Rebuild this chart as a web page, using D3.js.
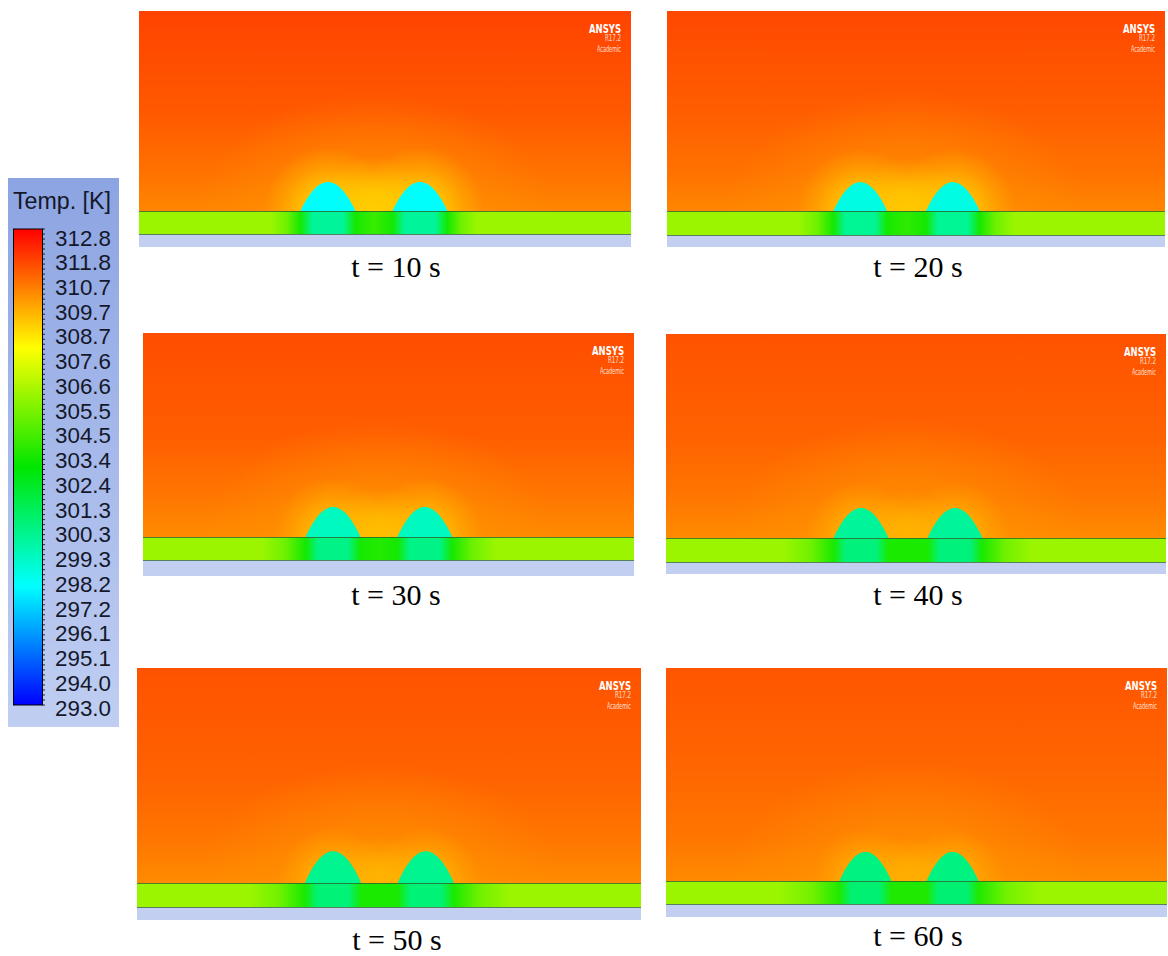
<!DOCTYPE html>
<html><head><meta charset="utf-8">
<script src="https://cdn.jsdelivr.net/npm/d3@7"></script>
<style>body{margin:0;background:#fff}svg{display:block}</style>
</head><body>
<svg id="chart" width="1168" height="956"></svg>
<script>
// ---------------- data ----------------
const times = [10, 20, 30, 40, 50, 60];
const legendTitle = "Temp. [K]";
const legendLabels = ["312.8","311.8","310.7","309.7","308.7","307.6","306.6","305.5","304.5","303.4",
                      "302.4","301.3","300.3","299.3","298.2","297.2","296.1","295.1","294.0","293.0"];
const tempMin = 293.0, tempMax = 312.8;
// droplets (x in mm over a 10 mm wide domain, heights in mm)
const dropletTemp      = [298.0, 298.5, 299.2, 299.9, 300.1, 300.4];
const dropletLeftX     = [3.84, 3.88, 3.87, 3.90, 3.89, 3.98];
const dropletRightX    = [5.71, 5.74, 5.74, 5.78, 5.73, 5.72];
const dropletHalfWidth = [0.56, 0.54, 0.56, 0.55, 0.56, 0.52];
const dropletHeight    = [0.59, 0.58, 0.61, 0.60, 0.63, 0.58];
// air temperature profile (top -> wall)
const airTopTemp  = [311.5, 311.4, 311.3, 311.2, 311.2, 311.15];
const airMidTemp  = [311.1, 311.0, 311.0, 310.9, 310.9, 310.8];
const airLowTemp  = [310.6, 310.6, 310.5, 310.5, 310.5, 310.5];
const airWallTemp = [310.2, 310.2, 310.1, 310.1, 310.1, 310.1];
const plumeTemp   = [309.9, 309.9, 309.9, 309.9, 309.9, 309.9];
const glowTemp    = [308.8, 308.9, 309.1, 309.3, 309.3, 309.4];
const glowRadius  = [1.3, 1.25, 1.2, 1.1, 1.1, 1.05];
// substrate temperatures
const substrateTemp      = 305.9;
const substrateUnderDrop = [299.9, 300.0, 300.3, 300.5, 300.6, 300.7];
const substrateEdge      = [303.3, 303.3, 303.3, 303.4, 303.4, 303.5];
const substrateBetween   = [304.0, 303.8, 303.6, 303.4, 303.4, 303.5];
const substrateSpread    = [0.6, 0.7, 0.9, 1.0, 1.1, 1.2];
const domainWidth = 10;

// ---------------- layout ----------------
const layout = [
  {x0:139, x1:631,  top:11,  gTop:211, gBot:234, bottom:247, labelX:396, labelY:277},
  {x0:667, x1:1165, top:11,  gTop:211, gBot:235, bottom:247, labelX:918, labelY:277},
  {x0:143, x1:634,  top:333, gTop:537, gBot:560, bottom:576, labelX:396, labelY:605},
  {x0:666, x1:1166, top:334, gTop:538, gBot:562, bottom:574, labelX:918, labelY:605},
  {x0:137, x1:641,  top:668, gTop:883, gBot:907, bottom:920, labelX:397, labelY:950},
  {x0:666, x1:1167, top:668, gTop:881, gBot:904, bottom:917, labelX:918, labelY:946}
];

const svg = d3.select("#chart");
const defs = svg.append("defs");

const color = d3.scaleLinear()
  .domain(d3.range(5).map(i => tempMin + i * (tempMax - tempMin) / 4))
  .range(["#0000ff", "#00ffff", "#00e600", "#ffff00", "#ff0000"])
  .interpolate(d3.interpolateRgb);

times.forEach((t, i) => {
  const L = layout[i];
  const x = d3.scaleLinear().domain([0, domainWidth]).range([L.x0, L.x1]);
  const pxPerMm = (L.x1 - L.x0) / domainWidth;
  const y = d3.scaleLinear().domain([0, 1]).range([L.gTop, L.gTop - pxPerMm]);
  const g = svg.append("g");

  defs.append("clipPath").attr("id", "air" + i).append("rect")
    .attr("x", L.x0).attr("y", L.top).attr("width", L.x1 - L.x0).attr("height", L.gTop - L.top);

  // air gradient
  const ag = defs.append("linearGradient").attr("id", "airG" + i)
    .attr("gradientUnits", "userSpaceOnUse").attr("x1", 0).attr("x2", 0)
    .attr("y1", L.top).attr("y2", L.gTop);
  [[0, airTopTemp[i]], [0.5, airMidTemp[i]], [0.8, airLowTemp[i]], [1, airWallTemp[i]]]
    .forEach(([o, T]) => ag.append("stop").attr("offset", o).attr("stop-color", color(T)));
  g.append("rect").attr("x", L.x0).attr("y", L.top).attr("width", L.x1 - L.x0)
    .attr("height", L.gTop - L.top).attr("fill", `url(#airG${i})`);

  const airG = g.append("g").attr("clip-path", `url(#air${i})`);
  const centers = [dropletLeftX[i], dropletRightX[i]];
  const mid = (centers[0] + centers[1]) / 2;

  // broad plume of cooler air above the droplets
  const pg = defs.append("radialGradient").attr("id", "plume" + i);
  [[0, 0.85], [0.5, 0.45], [1, 0]].forEach(([o, op]) =>
    pg.append("stop").attr("offset", o).attr("stop-color", color(plumeTemp[i])).attr("stop-opacity", op));
  airG.append("ellipse").attr("cx", x(mid)).attr("cy", L.gTop)
    .attr("rx", 3.6 * pxPerMm).attr("ry", 2.4 * pxPerMm).attr("fill", `url(#plume${i})`);

  // warm glow around droplets
  const rg = defs.append("radialGradient").attr("id", "glow" + i);
  [[0, 1], [0.35, 0.8], [0.7, 0.3], [1, 0]].forEach(([o, op]) =>
    rg.append("stop").attr("offset", o).attr("stop-color", color(glowTemp[i])).attr("stop-opacity", op));
  airG.selectAll("ellipse.glow").data([mid, ...centers]).join("ellipse")
    .attr("cx", d => x(d)).attr("cy", L.gTop)
    .attr("rx", (d, k) => (k === 0 ? 0.85 : 1) * glowRadius[i] * pxPerMm)
    .attr("ry", (d, k) => (k === 0 ? 0.85 : 1) * glowRadius[i] * pxPerMm)
    .attr("fill", `url(#glow${i})`);

  // substrate gradient
  const a = dropletHalfWidth[i], s = substrateSpread[i];
  const [cL, cR] = centers;
  const subStops = [
    [0, substrateTemp], [cL - a - s, substrateTemp], [cL - a - s * 0.45, (substrateTemp + substrateEdge[i]) / 2 + 0.4],
    [cL - a, substrateEdge[i]], [cL - a * 0.55, substrateUnderDrop[i]], [cL + a * 0.55, substrateUnderDrop[i]],
    [cL + a, substrateEdge[i]], [mid, substrateBetween[i]], [cR - a, substrateEdge[i]],
    [cR - a * 0.55, substrateUnderDrop[i]], [cR + a * 0.55, substrateUnderDrop[i]], [cR + a, substrateEdge[i]],
    [cR + a + s * 0.45, (substrateTemp + substrateEdge[i]) / 2 + 0.4], [cR + a + s, substrateTemp], [domainWidth, substrateTemp]
  ];
  const sg = defs.append("linearGradient").attr("id", "subG" + i)
    .attr("gradientUnits", "userSpaceOnUse").attr("x1", L.x0).attr("x2", L.x1).attr("y1", 0).attr("y2", 0);
  subStops.forEach(([p, T]) => sg.append("stop").attr("offset", p / domainWidth).attr("stop-color", color(T)));
  g.append("rect").attr("x", L.x0).attr("y", L.gTop).attr("width", L.x1 - L.x0)
    .attr("height", L.gBot - L.gTop).attr("fill", `url(#subG${i})`);

  // base strip
  g.append("rect").attr("x", L.x0).attr("y", L.gBot).attr("width", L.x1 - L.x0)
    .attr("height", L.bottom - L.gBot).attr("fill", "#c2cff0");

  // droplets (parabolic cap)
  const us = d3.range(0, 41).map(k => -1 + k / 20);
  const line = d3.line().x(d => d[0]).y(d => d[1]);
  g.selectAll("path.drop").data(centers).join("path")
    .attr("d", c => line(us.map(u => [x(c + u * a), y(dropletHeight[i] * (1 - u * u))])) + "Z")
    .attr("fill", color(dropletTemp[i]));

  // interface lines
  g.append("line").attr("x1", L.x0).attr("x2", L.x1).attr("y1", L.gTop + 0.5).attr("y2", L.gTop + 0.5)
    .attr("stroke", "#2f5a2a").attr("stroke-width", 1).attr("opacity", 0.75);
  g.append("line").attr("x1", L.x0).attr("x2", L.x1).attr("y1", L.gBot + 0.5).attr("y2", L.gBot + 0.5)
    .attr("stroke", "#3b6e3b").attr("stroke-width", 1).attr("opacity", 0.8);

  // ANSYS badge
  const b = g.append("g").attr("transform", `translate(${L.x1 - 10},${L.top})`).attr("fill", "#fff")
    .attr("text-anchor", "end").style("font-family", "'DejaVu Sans Condensed','DejaVu Sans',sans-serif");
  b.append("text").attr("y", 22).attr("font-size", 13).attr("font-weight", "bold")
    .attr("textLength", 32).attr("lengthAdjust", "spacingAndGlyphs").text("ANSYS");
  b.append("text").attr("y", 30).attr("font-size", 8).attr("opacity", 0.8)
    .attr("textLength", 16).attr("lengthAdjust", "spacingAndGlyphs").text("R17.2");
  b.append("text").attr("y", 41).attr("font-size", 8).attr("opacity", 0.8)
    .attr("textLength", 24).attr("lengthAdjust", "spacingAndGlyphs").text("Academic");

  // time label
  svg.append("text").attr("x", L.labelX).attr("y", L.labelY).attr("text-anchor", "middle")
    .style("font-family", "'Liberation Serif','Times New Roman',serif").attr("font-size", 30)
    .attr("fill", "#000").text(`t = ${t} s`);
});

// ---------------- legend ----------------
const lg = svg.append("g");
const bgG = defs.append("linearGradient").attr("id", "legBg").attr("x1", 0).attr("x2", 0).attr("y1", 0).attr("y2", 1);
bgG.append("stop").attr("offset", 0).attr("stop-color", "#8ca4e2");
bgG.append("stop").attr("offset", 1).attr("stop-color", "#c0cef2");
lg.append("rect").attr("x", 8).attr("y", 178).attr("width", 111).attr("height", 549).attr("fill", "url(#legBg)");
lg.append("text").attr("x", 13).attr("y", 209).attr("font-size", 23)
  .style("font-family", "'Liberation Sans',Arial,sans-serif").attr("fill", "#14182a")
  .attr("textLength", 98).attr("lengthAdjust", "spacingAndGlyphs").text(legendTitle);

const barY = d3.scaleLinear().domain([tempMin, tempMax]).range([705, 229]);
const barG = defs.append("linearGradient").attr("id", "barG").attr("x1", 0).attr("x2", 0).attr("y1", 1).attr("y2", 0);
d3.range(0, 21).forEach(k => {
  const T = tempMin + k * (tempMax - tempMin) / 20;
  barG.append("stop").attr("offset", k / 20).attr("stop-color", color(T));
});
lg.append("rect").attr("x", 13.5).attr("y", barY(tempMax)).attr("width", 29)
  .attr("height", barY(tempMin) - barY(tempMax)).attr("fill", "url(#barG)")
  .attr("stroke", "#000").attr("stroke-width", 1);
lg.selectAll("line.mt").data(d3.range(0, 96)).join("line")
  .attr("x1", 42.5).attr("x2", 45)
  .attr("y1", k => barY(tempMin + k * (tempMax - tempMin) / 95))
  .attr("y2", k => barY(tempMin + k * (tempMax - tempMin) / 95))
  .attr("stroke", "#000").attr("stroke-width", 0.8);

const labY = d3.scalePoint().domain(legendLabels).range([238, 708]);
const ax = lg.append("g").attr("transform", "translate(52,0)")
  .call(d3.axisRight(labY).tickSize(0).tickPadding(3));
ax.select(".domain").remove();
ax.selectAll("text").attr("font-size", 22).attr("fill", "#14182a")
  .attr("textLength", 56).attr("lengthAdjust", "spacingAndGlyphs")
  .style("font-family", "'Liberation Sans',Arial,sans-serif");
</script>
</body></html>
